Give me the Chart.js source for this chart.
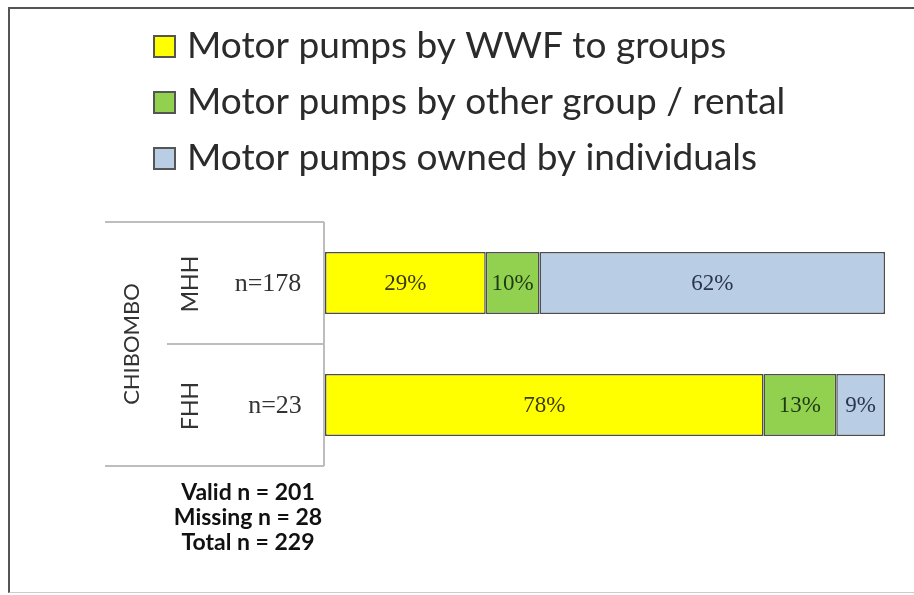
<!DOCTYPE html>
<html lang="en">
<head>
    <meta charset="UTF-8">
    <title>Motor pumps - Chibombo</title>
    <script src="https://cdn.jsdelivr.net/npm/chart.js"></script>
    <style>
        body { margin: 0; background: #fff; }
        .wrap { position: relative; width: 914px; height: 595px; }
        .frame {
            position: absolute; left: 8px; top: 7px; width: 906px; height: 586px;
            border-top: 2px solid #555; border-left: 2px solid #555;
            border-bottom: 1px solid #ccc; box-sizing: border-box;
        }
        canvas { position: absolute; left: 0; top: 0; }
    </style>
</head>
<body>
<div class="wrap">
    <div class="frame"></div>
    <canvas id="pumpChart" width="914" height="595"></canvas>
</div>
<script>
    // data (percent of households)
    const district = 'CHIBOMBO';
    const groups = ['MHH', 'FHH'];
    const categories = ['n=178', 'n=23'];
    const seriesNames = ['Motor pumps by WWF to groups', 'Motor pumps by other group / rental', 'Motor pumps owned by individuals'];
    const wwfGroups = [28.7, 78.3];
    const otherGroup = [9.6, 13.0];
    const individuals = [61.7, 8.7];
    const footnotes = ['Valid n = 201', 'Missing n = 28', 'Total n = 229'];

    const colors = ['#FFFF00', '#92D050', '#B9CDE5'];

    // draws the left table, legend, footnotes and value labels
    const decorations = {
        id: 'decorations',
        afterDatasetsDraw(chart) {
            const ctx = chart.ctx;
            const y = chart.scales.y;
            const area = chart.chartArea;
            const half = (y.getPixelForValue(1) - y.getPixelForValue(0)) / 2;
            const top = y.getPixelForValue(0) - half;
            const mid = y.getPixelForValue(0) + half;
            const bottom = y.getPixelForValue(1) + half;
            ctx.save();

            // table lines
            ctx.strokeStyle = '#bdbdbd';
            ctx.lineWidth = 2;
            ctx.beginPath();
            ctx.moveTo(105, top); ctx.lineTo(area.left - 1, top);
            ctx.moveTo(167, mid); ctx.lineTo(area.left - 1, mid);
            ctx.moveTo(105, bottom); ctx.lineTo(area.left - 1, bottom);
            ctx.moveTo(area.left - 1, top); ctx.lineTo(area.left - 1, bottom);
            ctx.stroke();

            // rotated labels
            ctx.fillStyle = '#333';
            ctx.textAlign = 'center';
            ctx.textBaseline = 'middle';
            ctx.font = '22px Lato, sans-serif';
            ctx.save();
            ctx.translate(132, (top + bottom) / 2);
            ctx.rotate(-Math.PI / 2);
            ctx.fillText(district, 0, 0);
            ctx.restore();
            ctx.font = '23px Lato, sans-serif';
            groups.forEach((g, i) => {
                ctx.save();
                ctx.translate(191, y.getPixelForValue(i) + 1);
                ctx.rotate(-Math.PI / 2);
                ctx.fillText(g, 0, 0);
                ctx.restore();
            });

            // n labels
            ctx.font = '26px "Liberation Serif", serif';
            categories.forEach((c, i) => {
                ctx.fillText(c, i === 0 ? 268 : 275, y.getPixelForValue(i) + 1);
            });

            // value labels in the bars
            ctx.font = '23px "Liberation Serif", serif';
            chart.data.datasets.forEach((ds, di) => {
                chart.getDatasetMeta(di).data.forEach((bar, j) => {
                    ctx.fillStyle = di === 1 ? '#1e3a12' : (di === 2 ? '#2a3550' : '#3a3a10');
                    ctx.fillText(Math.round(ds.data[j]) + '%', (bar.x + bar.base) / 2, bar.y + 1);
                });
            });

            // legend
            ctx.textAlign = 'left';
            ctx.textBaseline = 'alphabetic';
            ctx.font = '37px Lato, sans-serif';
            chart.data.datasets.forEach((ds, i) => {
                const ly = 46 + i * 56;
                ctx.fillStyle = ds.backgroundColor;
                ctx.fillRect(154, ly - 10, 21, 21);
                ctx.strokeStyle = '#555';
                ctx.lineWidth = 2;
                ctx.strokeRect(154, ly - 10, 21, 21);
                ctx.fillStyle = '#2b2b2b';
                ctx.fillText(ds.label, 187, ly + 12);
            });

            // footnotes
            ctx.textAlign = 'center';
            ctx.textBaseline = 'middle';
            ctx.font = 'bold 23px Lato, sans-serif';
            ctx.fillStyle = '#111';
            footnotes.forEach((t, i) => {
                ctx.fillText(t, 248, 493 + i * 25);
            });
            ctx.restore();
        }
    };

    const ctx = document.getElementById('pumpChart').getContext('2d');
    new Chart(ctx, {
        type: 'bar',
        data: {
            labels: categories,
            datasets: [
                { label: seriesNames[0], data: wwfGroups, backgroundColor: colors[0] },
                { label: seriesNames[1], data: otherGroup, backgroundColor: colors[1] },
                { label: seriesNames[2], data: individuals, backgroundColor: colors[2] }
            ].map(d => Object.assign(d, {
                borderColor: '#4d4d4d',
                borderWidth: 1.5,
                borderSkipped: false,
                barPercentage: 0.51,
                categoryPercentage: 1
            }))
        },
        options: {
            indexAxis: 'y',
            responsive: false,
            animation: false,
            layout: { padding: { left: 325, right: 29, top: 222, bottom: 129 } },
            scales: {
                x: { stacked: true, min: 0, max: 100, display: false },
                y: { stacked: true, display: false }
            },
            plugins: {
                legend: { display: false },
                tooltip: { enabled: false }
            }
        },
        plugins: [decorations]
    });
</script>
</body>
</html>
